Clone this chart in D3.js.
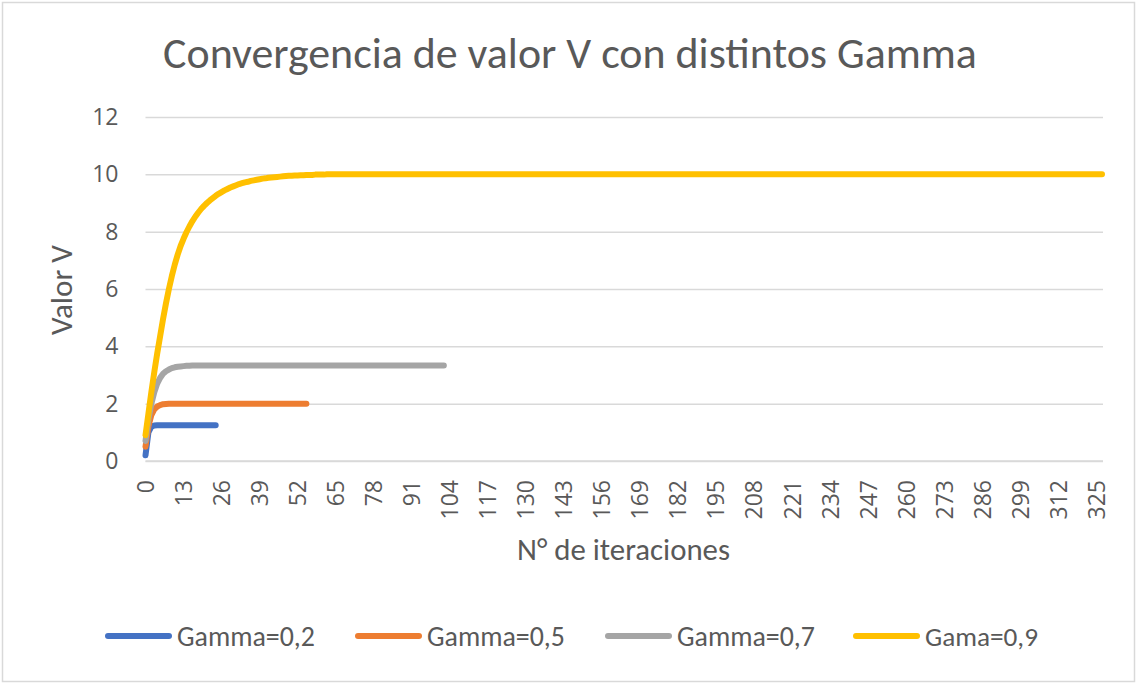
<!DOCTYPE html>
<html>
<head>
<meta charset="utf-8">
<script src="https://cdn.jsdelivr.net/npm/d3@7"></script>
<style>
  body { margin: 0; background: #fff; }
  svg { display: block; font-family: Calibri, Carlito, "Open Sans", sans-serif; }
</style>
</head>
<body>
<div id="chart"></div>
<script>
//---------------------------DATA--------------------------------//
const title = "Convergencia de valor V con distintos Gamma";
const xTitle = "N° de iteraciones";
const yTitle = "Valor V";
const seriesNames = ["Gamma=0,2", "Gamma=0,5", "Gamma=0,7", "Gama=0,9"];
const seriesColors = ["#4472C4", "#ED7D31", "#A5A5A5", "#FFC000"];
const nCategories = 328;   // iterations 0..327
const xTickLabels = [0, 13, 26, 39, 52, 65, 78, 91, 104, 117, 130, 143, 156, 169,
                     182, 195, 208, 221, 234, 247, 260, 273, 286, 299, 312, 325];
const yTicks = [0, 2, 4, 6, 8, 10, 12];

const gamma02 = [0.20, 1.00, 1.20, 1.24, 1.25,
  1.25, 1.25, 1.25, 1.25, 1.25, 1.25, 1.25, 1.25, 1.25, 1.25,
  1.25, 1.25, 1.25, 1.25, 1.25, 1.25, 1.25, 1.25, 1.25, 1.25];

const gamma05 = [0.50, 1.20, 1.60, 1.80, 1.90, 1.95, 1.98, 1.99, 2.00,
  2, 2, 2, 2, 2, 2, 2, 2, 2, 2, 2, 2, 2, 2, 2, 2, 2, 2, 2, 2,
  2, 2, 2, 2, 2, 2, 2, 2, 2, 2, 2, 2, 2, 2, 2, 2, 2, 2, 2, 2,
  2, 2, 2, 2, 2, 2, 2];

const gamma07 = [0.70, 1.45, 2.00, 2.40, 2.70, 2.90, 3.04, 3.13, 3.19, 3.24,
  3.27, 3.29, 3.30, 3.31, 3.32, 3.32, 3.33,
  3.33, 3.33, 3.33, 3.33, 3.33, 3.33, 3.33, 3.33, 3.33, 3.33,
  3.33, 3.33, 3.33, 3.33, 3.33, 3.33, 3.33, 3.33, 3.33, 3.33,
  3.33, 3.33, 3.33, 3.33, 3.33, 3.33, 3.33, 3.33, 3.33, 3.33,
  3.33, 3.33, 3.33, 3.33, 3.33, 3.33, 3.33, 3.33, 3.33, 3.33,
  3.33, 3.33, 3.33, 3.33, 3.33, 3.33, 3.33, 3.33, 3.33, 3.33,
  3.33, 3.33, 3.33, 3.33, 3.33, 3.33, 3.33, 3.33, 3.33, 3.33,
  3.33, 3.33, 3.33, 3.33, 3.33, 3.33, 3.33, 3.33, 3.33, 3.33,
  3.33, 3.33, 3.33, 3.33, 3.33, 3.33, 3.33, 3.33, 3.33, 3.33,
  3.33, 3.33, 3.33, 3.33, 3.33, 3.33];

const gamma09 = [0.90, 1.65, 2.40, 3.10, 3.75, 4.35, 4.95, 5.50, 6.00, 6.45,
  6.85, 7.20, 7.50, 7.75, 7.98, 8.18, 8.36, 8.52, 8.66, 8.79,
  8.90, 9.00, 9.09, 9.17, 9.25, 9.32, 9.38, 9.44, 9.49, 9.54,
  9.58, 9.62, 9.66, 9.69, 9.72, 9.74, 9.77, 9.79, 9.81, 9.83,
  9.85, 9.86, 9.88, 9.89, 9.90, 9.91, 9.92, 9.93, 9.94, 9.95,
  9.95, 9.96, 9.96, 9.97, 9.97, 9.98, 9.98, 9.98, 9.99, 9.99,
  9.99, 9.99,
  10, 10, 10, 10, 10, 10, 10, 10, 10, 10, 10, 10, 10, 10, 10, 10, 10, 10, 10, 10,
  10, 10, 10, 10, 10, 10, 10, 10, 10, 10, 10, 10, 10, 10, 10, 10, 10, 10, 10, 10,
  10, 10, 10, 10, 10, 10, 10, 10, 10, 10, 10, 10, 10, 10, 10, 10, 10, 10, 10, 10,
  10, 10, 10, 10, 10, 10, 10, 10, 10, 10, 10, 10, 10, 10, 10, 10, 10, 10, 10, 10,
  10, 10, 10, 10, 10, 10, 10, 10, 10, 10, 10, 10, 10, 10, 10, 10, 10, 10, 10, 10,
  10, 10, 10, 10, 10, 10, 10, 10, 10, 10, 10, 10, 10, 10, 10, 10, 10, 10, 10, 10,
  10, 10, 10, 10, 10, 10, 10, 10, 10, 10, 10, 10, 10, 10, 10, 10, 10, 10, 10, 10,
  10, 10, 10, 10, 10, 10, 10, 10, 10, 10, 10, 10, 10, 10, 10, 10, 10, 10, 10, 10,
  10, 10, 10, 10, 10, 10, 10, 10, 10, 10, 10, 10, 10, 10, 10, 10, 10, 10, 10, 10,
  10, 10, 10, 10, 10, 10, 10, 10, 10, 10, 10, 10, 10, 10, 10, 10, 10, 10, 10, 10,
  10, 10, 10, 10, 10, 10, 10, 10, 10, 10, 10, 10, 10, 10, 10, 10, 10, 10, 10, 10,
  10, 10, 10, 10, 10, 10, 10, 10, 10, 10, 10, 10, 10, 10, 10, 10, 10, 10, 10, 10,
  10, 10, 10, 10, 10, 10, 10, 10, 10, 10, 10, 10, 10, 10, 10, 10, 10, 10, 10, 10,
  10, 10, 10, 10, 10, 10];

const seriesValues = [gamma02, gamma05, gamma07, gamma09];

//---------------------------SVG---------------------------------//
const width = 1137;
const height = 684;
const plot = {left: 145.5, right: 1102, top: 117, bottom: 461};
const textColor = "#595959";
const gridColor = "#D9D9D9";

const svg = d3.select("#chart").append("svg")
    .attr("width", width)
    .attr("height", height);

svg.append("rect")
    .attr("x", 2.5).attr("y", 2.5)
    .attr("width", width - 5).attr("height", height - 5)
    .attr("fill", "#fff")
    .attr("stroke", gridColor)
    .attr("stroke-width", 1.5);

// shrink/grow a text so that it spans the given width
function fitText(sel, target) {
    const w = sel.node().getComputedTextLength();
    const fs = parseFloat(sel.attr("font-size"));
    sel.attr("font-size", (fs * target / w).toFixed(2));
    return sel;
}

//--------------------------SCALES-------------------------------//
const xScale = d3.scaleLinear().domain([0, nCategories - 1]).range([plot.left, plot.right]);
const yScale = d3.scaleLinear().domain([0, 12]).range([plot.bottom, plot.top]);

//---------------------------AXES--------------------------------//
const yAxis = d3.axisLeft(yScale)
    .tickValues(yTicks)
    .tickSize(-(plot.right - plot.left + 1))
    .tickPadding(27);

svg.append("g")
    .attr("class", "y axis")
    .attr("transform", "translate(" + plot.left + ",0)")
    .call(yAxis)
    .call(g => g.select(".domain").remove())
    .call(g => g.selectAll(".tick line").attr("stroke", gridColor).attr("stroke-width", 1.5))
    .call(g => g.selectAll(".tick text")
        .attr("fill", textColor)
        .attr("font-size", 23)
        .attr("font-family", "'Open Sans', sans-serif"));

const xAxis = d3.axisBottom(xScale)
    .tickValues(xTickLabels)
    .tickSize(0)
    .tickFormat(d3.format("d"));

svg.append("g")
    .attr("class", "x axis")
    .attr("transform", "translate(0," + plot.bottom + ")")
    .call(xAxis)
    .call(g => g.select(".domain")
        .attr("stroke", gridColor).attr("stroke-width", 1.5)
        .attr("d", "M" + plot.left + ",0H" + (plot.right + 1)))
    .call(g => g.selectAll(".tick text")
        .attr("fill", textColor)
        .attr("font-size", 23)
        .attr("font-family", "'Open Sans', sans-serif")
        .attr("text-anchor", "end")
        .attr("transform", "rotate(-90)")
        .attr("x", -19)
        .attr("y", 0)
        .attr("dy", "0.35em"));

//--------------------------TITLES-------------------------------//
svg.append("text")
    .attr("x", 570).attr("y", 68)
    .attr("text-anchor", "middle")
    .attr("fill", textColor)
    .attr("font-size", 36)
    .text(title)
    .call(s => fitText(s, 814));

svg.append("text")
    .attr("x", 623.5).attr("y", 560)
    .attr("text-anchor", "middle")
    .attr("fill", textColor)
    .attr("font-size", 24)
    .text(xTitle)
    .call(s => fitText(s, 213));

svg.append("text")
    .attr("transform", "translate(72,290) rotate(-90)")
    .attr("text-anchor", "middle")
    .attr("fill", textColor)
    .attr("font-size", 24)
    .text(yTitle)
    .call(s => fitText(s, 90));

//---------------------------LINES-------------------------------//
const line = d3.line()
    .x((d, i) => xScale(i))
    .y(d => yScale(d));

svg.append("g")
    .selectAll("path")
    .data(seriesValues)
    .join("path")
    .attr("fill", "none")
    .attr("stroke", (d, i) => seriesColors[i])
    .attr("stroke-width", 6)
    .attr("stroke-linejoin", "round")
    .attr("stroke-linecap", "round")
    .attr("d", d => line(d));

//--------------------------LEGEND-------------------------------//
const legend = svg.append("g").attr("class", "legend");
const legendX = [105, 355, 605, 853];
seriesNames.forEach(function(name, i) {
    legend.append("line")
        .attr("x1", legendX[i] + 3).attr("x2", legendX[i] + 64)
        .attr("y1", 636).attr("y2", 636)
        .attr("stroke", seriesColors[i])
        .attr("stroke-width", 6)
        .attr("stroke-linecap", "round");
    legend.append("text")
        .attr("x", legendX[i] + 72).attr("y", 636)
        .attr("dy", "0.35em")
        .attr("fill", textColor)
        .attr("font-size", 22)
        .text(name)
        .call(s => fitText(s, i === 3 ? 113 : 138));
});
</script>
</body>
</html>
